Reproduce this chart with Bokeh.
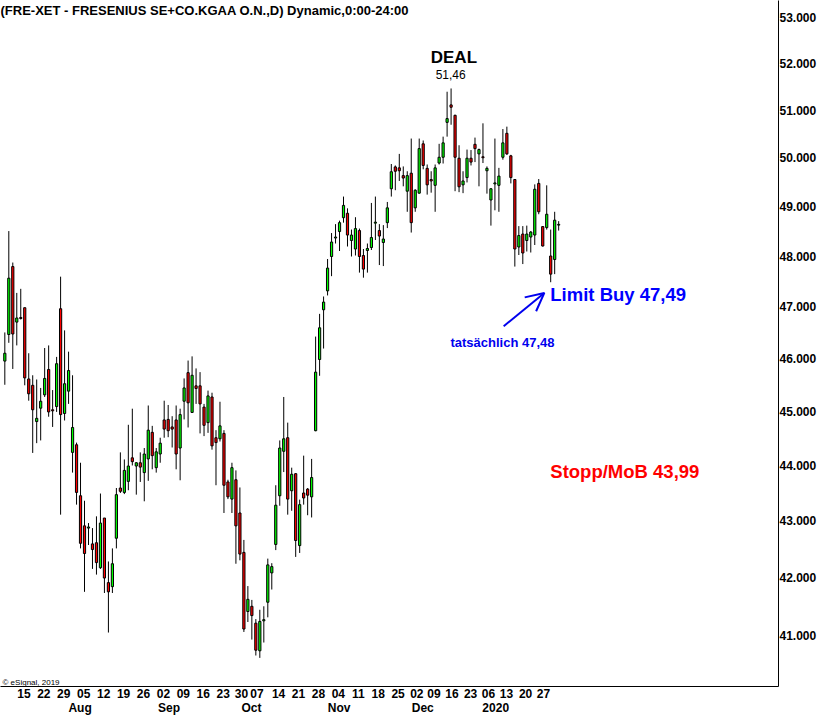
from bokeh.plotting import figure
from bokeh.models import (Range1d, FixedTicker, NumeralTickFormatter, LinearAxis,
                          Label, Arrow, OpenHead, ColumnDataSource)
from bokeh.embed import file_html
from bokeh.resources import INLINE

FONT = "Liberation Sans"

# ---- daily OHLC ----
opens = [45.95, 46.46, 47.79, 46.70, 46.79, 46.98, 45.61, 45.49, 44.81, 45.06,
         45.31, 45.79, 45.03, 45.09, 46.96, 44.96, 45.38, 44.24, 44.38, 43.45,
         42.91, 42.87, 42.59, 42.61, 42.17, 43.05, 41.91, 41.84, 42.69, 43.59,
         43.51, 43.71, 44.14, 43.99, 44.05, 43.87, 44.12, 44.61, 43.96, 44.21,
         44.84, 44.85, 44.71, 44.84, 44.32, 45.19, 45.73, 44.98, 45.48, 45.48,
         45.08, 44.79, 45.27, 44.51, 44.49, 44.59, 43.70, 43.39, 43.74, 43.14,
         42.44, 41.41, 41.50, 41.21, 40.74, 41.25, 41.57, 42.08, 42.58, 43.45,
         44.26, 44.51, 43.54, 43.85, 42.56, 43.50, 43.57, 43.43, 44.64, 45.98,
         46.94, 47.31, 47.99, 48.36, 48.49, 48.77, 48.86, 48.31, 48.14, 48.51,
         48.01, 48.11, 48.17, 48.66, 48.51, 48.27, 48.67, 49.36, 49.81, 49.79,
         49.63, 49.31, 49.68, 48.97, 49.27, 50.29, 49.78, 49.55, 49.43, 49.89,
         50.01, 50.74, 51.11, 50.89, 49.99, 49.44, 49.59, 49.99, 50.28, 50.08,
         50.02, 49.73, 49.13, 49.46, 49.43, 50.01, 50.51, 50.04, 49.55, 48.18,
         48.44, 48.31, 48.38, 48.42, 49.47, 48.59, 48.57, 48.00, 47.93, 48.62]
highs = [46.50, 48.50, 47.87, 47.27, 47.35, 46.98, 46.10, 45.68, 45.60, 45.44,
         46.20, 46.25, 45.40, 46.03, 47.59, 46.54, 46.13, 45.68, 44.42, 44.05,
         43.36, 42.96, 42.87, 43.08, 43.49, 43.05, 42.28, 42.51, 43.59, 44.24,
         44.11, 44.75, 45.05, 44.06, 44.24, 44.32, 45.11, 44.73, 44.32, 44.51,
         45.20, 45.12, 44.91, 45.11, 45.05, 45.62, 45.96, 46.04, 45.81, 45.74,
         45.14, 45.39, 45.35, 44.65, 45.18, 44.65, 43.74, 44.05, 43.91, 43.60,
         42.66, 41.85, 41.61, 41.28, 41.44, 41.50, 42.33, 42.25, 43.64, 44.46,
         45.27, 44.79, 43.96, 43.86, 43.38, 44.18, 43.59, 44.12, 46.42, 46.86,
         47.20, 47.94, 48.46, 48.64, 48.71, 49.20, 48.96, 48.53, 48.78, 48.55,
         48.14, 48.25, 49.07, 49.20, 48.64, 48.62, 49.09, 49.87, 49.84, 50.08,
         49.82, 49.72, 50.40, 49.35, 50.40, 50.36, 49.86, 49.72, 49.86, 50.29,
         50.44, 51.39, 51.46, 50.90, 50.26, 49.72, 50.17, 50.16, 50.42, 50.19,
         50.72, 49.82, 49.37, 50.40, 49.79, 50.60, 50.65, 50.06, 49.56, 48.60,
         48.60, 48.61, 48.50, 49.45, 49.56, 48.60, 49.43, 48.53, 48.89, 48.70]
lows = [45.50, 46.30, 45.80, 46.25, 46.75, 45.49, 45.20, 44.23, 44.41, 44.46,
        45.27, 44.90, 44.71, 44.99, 43.11, 44.83, 45.14, 43.87, 43.29, 42.51,
        41.75, 42.57, 42.15, 42.05, 42.15, 41.73, 41.05, 41.73, 42.51, 43.50,
        43.48, 43.55, 44.00, 43.47, 43.70, 43.35, 43.72, 43.93, 43.87, 44.05,
        44.51, 44.52, 44.33, 43.93, 43.73, 44.85, 44.70, 44.97, 45.14, 44.59,
        44.54, 44.60, 44.29, 43.64, 44.44, 43.14, 43.39, 43.14, 42.24, 42.30,
        41.06, 41.23, 40.93, 40.66, 40.62, 40.88, 41.31, 41.79, 42.48, 43.27,
        43.88, 43.11, 43.18, 42.36, 42.43, 43.29, 43.10, 43.06, 44.63, 45.67,
        46.19, 47.22, 47.60, 48.25, 48.10, 48.67, 48.19, 47.99, 48.01, 47.67,
        47.57, 47.67, 48.12, 48.32, 47.82, 47.80, 48.56, 49.20, 49.33, 49.52,
        49.41, 48.89, 48.47, 48.89, 49.26, 49.76, 49.24, 49.28, 48.89, 49.86,
        49.88, 50.44, 50.69, 49.31, 49.29, 49.27, 49.49, 49.84, 49.91, 49.41,
        49.89, 49.26, 48.61, 48.92, 48.89, 49.96, 50.06, 49.47, 47.79, 48.02,
        47.84, 48.09, 48.07, 48.22, 48.84, 48.19, 48.53, 47.48, 47.64, 48.51]
closes = [46.10, 47.56, 46.47, 46.78, 46.77, 45.63, 45.33, 45.03, 44.87, 45.19,
          45.62, 44.99, 45.01, 45.90, 44.94, 45.52, 45.77, 44.70, 43.51, 42.60,
          42.42, 42.89, 42.49, 42.26, 42.96, 41.99, 41.75, 42.24, 43.47, 43.53,
          43.91, 43.99, 44.07, 44.05, 43.97, 44.21, 44.65, 44.18, 44.25, 44.41,
          44.67, 44.64, 44.67, 44.21, 44.94, 45.44, 45.16, 45.68, 45.43, 45.14,
          44.74, 45.29, 44.36, 44.42, 44.73, 43.64, 43.43, 43.96, 42.91, 42.41,
          41.11, 41.62, 41.34, 40.75, 41.24, 41.27, 42.22, 42.19, 43.28, 44.32,
          44.49, 43.39, 43.84, 42.65, 43.29, 43.41, 43.46, 43.78, 45.74, 46.59,
          47.09, 47.76, 48.28, 48.38, 48.67, 49.02, 48.42, 48.42, 48.55, 47.99,
          47.74, 48.15, 48.37, 48.68, 48.40, 48.34, 48.97, 49.71, 49.72, 49.73,
          49.58, 49.63, 48.67, 49.33, 50.19, 49.84, 49.44, 49.52, 49.79, 50.01,
          50.31, 50.82, 51.06, 50.01, 49.40, 49.52, 49.99, 49.91, 50.19, 50.17,
          50.00, 49.78, 49.36, 49.48, 49.62, 50.31, 50.08, 49.59, 48.14, 48.41,
          48.06, 48.44, 48.48, 49.35, 48.89, 48.20, 48.84, 47.64, 48.72, 48.635]

price_ticks = [41, 42, 43, 44, 45, 46, 47, 48, 49, 50, 51, 52, 53]
day_pos = [4.8, 9.8, 14.8, 19.8, 24.8, 29.8, 34.8, 39.8, 44.8, 49.8, 54.8, 59.4,
           63.3, 68.7, 73.7, 78.7, 83.7, 88.7, 93.7, 98.7, 103.4, 107.7, 112.2,
           116.9, 121.4, 125.9, 130.7, 135.2]
day_labels = ["15", "22", "29", "05", "12", "19", "26", "02", "09", "16", "23", "30",
              "07", "14", "21", "28", "04", "11", "18", "25", "02", "09", "16",
              "23", "06", "13", "20", "27"]
month_pos = [18.9, 41.2, 61.9, 83.9, 104.9, 123.2]
month_labels = ["Aug", "Sep", "Oct", "Nov", "Dec", "2020"]
last_price = 48.635

idx = list(range(len(opens)))
tops = [max(o, c) for o, c in zip(opens, closes)]
bottoms = [min(o, c) for o, c in zip(opens, closes)]
colors = ["#00ff00" if c >= o else "#ff0000" for o, c in zip(opens, closes)]
src = ColumnDataSource(dict(x=idx, high=highs, low=lows, top=tops,
                            bottom=bottoms, color=colors))

X0, X1 = -1.083, 194.17
Y0, Y1 = 40.14, 53.375

p = figure(width=819, height=717, x_range=Range1d(X0, X1),
           y_range=Range1d(Y0, Y1), y_axis_type="log",
           y_axis_location="right", output_backend="svg", toolbar_location=None,
           min_border_left=0, min_border_top=0, min_border_right=38,
           min_border_bottom=30)
p.outline_line_color = None
p.grid.visible = False
p.background_fill_color = "white"
p.border_fill_color = "white"

p.segment(x0="x", y0="low", x1="x", y1="high", source=src,
          line_color="black", line_width=1)
p.vbar(x="x", width=0.55, top="top", bottom="bottom", source=src,
       fill_color="color", line_color="black", line_width=1)

# right price axis
ya = p.yaxis[0]
ya.ticker = FixedTicker(ticks=price_ticks)
ya.formatter = NumeralTickFormatter(format="0.000")
ya.major_tick_out = 0
ya.major_tick_in = 0
ya.minor_tick_out = 0
ya.minor_tick_in = 0
ya.major_label_standoff = 1
ya.axis_line_color = "black"
ya.major_label_text_font = FONT
ya.major_label_text_font_style = "bold"
ya.major_label_text_font_size = "12px"
ya.major_label_text_color = "black"

# bottom day axis
xa = p.xaxis[0]
xa.ticker = FixedTicker(ticks=day_pos)
xa.major_label_overrides = {pos: lab for pos, lab in zip(day_pos, day_labels)}
xa.major_tick_out = 0
xa.major_tick_in = 0
xa.minor_tick_out = 0
xa.minor_tick_in = 0
xa.major_label_standoff = 2
xa.axis_line_color = "black"
xa.major_label_text_font = FONT
xa.major_label_text_font_style = "bold"
xa.major_label_text_font_size = "12px"
xa.major_label_text_color = "black"

# month row
ma = LinearAxis(ticker=FixedTicker(ticks=month_pos))
ma.major_label_overrides = {pos: lab for pos, lab in zip(month_pos, month_labels)}
ma.axis_line_color = None
ma.major_tick_line_color = None
ma.minor_tick_line_color = None
ma.major_tick_out = 0
ma.major_tick_in = 0
ma.major_label_standoff = 0
ma.major_label_text_font = FONT
ma.major_label_text_font_style = "bold"
ma.major_label_text_font_size = "12px"
ma.major_label_text_color = "black"
p.add_layout(ma, "below")

# texts
p.add_layout(Label(x=X0, y=Y1, y_offset=-2, text_baseline="top",
                   text="(FRE-XET - FRESENIUS SE+CO.KGAA O.N.,D) Dynamic,0:00-24:00",
                   text_font=FONT, text_font_style="bold", text_font_size="13px",
                   text_color="black"))
p.add_layout(Label(x=-0.58, y=40.21, text_baseline="middle", text="© eSignal, 2019",
                   text_font=FONT, text_font_size="8px", text_color="black"))
p.add_layout(Label(x=112.7, y=52.13, text_align="center", text_baseline="middle",
                   text="DEAL", text_font=FONT, text_font_style="bold",
                   text_font_size="17px", text_color="black"))
p.add_layout(Label(x=111.9, y=51.76, text_align="center", text_baseline="middle",
                   text="51,46", text_font=FONT, text_font_size="12px",
                   text_color="black"))
p.add_layout(Label(x=136.9, y=47.23, text_align="left", text_baseline="middle",
                   text="Limit Buy 47,49", text_font=FONT, text_font_style="bold",
                   text_font_size="18.5px", text_color="#0000ff"))
p.add_layout(Label(x=124.9, y=46.30, text_align="center", text_baseline="middle",
                   text="tatsächlich 47,48", text_font=FONT, text_font_style="bold",
                   text_font_size="13px", text_color="#0000ee"))
p.add_layout(Label(x=136.9, y=43.89, text_align="left", text_baseline="middle",
                   text="Stopp/MoB 43,99", text_font=FONT, text_font_style="bold",
                   text_font_size="18.5px", text_color="#ff0000"))
p.add_layout(Arrow(end=OpenHead(line_color="#0000ee", line_width=2, size=18),
                   x_start=125.2, y_start=46.62, x_end=135.4, y_end=47.27,
                   line_color="#0000ee", line_width=2))
p.add_layout(Label(x=X1, y=last_price, x_offset=1, text_align="left",
                   text_baseline="middle", text=f"{last_price:.3f}",
                   text_font=FONT, text_font_style="bold", text_font_size="12px",
                   text_color="white", background_fill_color="#00ff00",
                   padding=1))

open("out.html", "w").write(file_html(p, INLINE))
